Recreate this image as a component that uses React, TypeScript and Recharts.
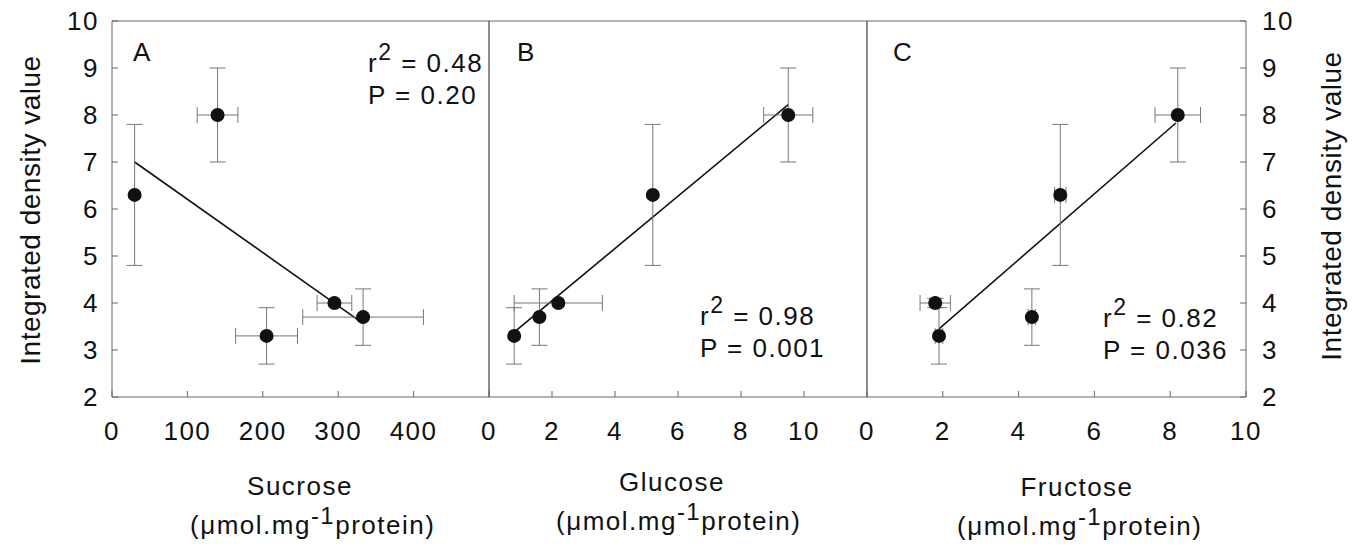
import React from 'react';
import {
  ScatterChart,
  Scatter,
  XAxis,
  YAxis,
  ErrorBar,
  ReferenceLine,
  ReferenceArea,
} from 'recharts';

const WIDTH = 1363;
const HEIGHT = 554;
const PLOT_TOP = 21;
const PLOT_BOTTOM = 397;
const X_AXIS_H = 40;
const LABEL_AXIS_W = 60;
const FONT = '"Liberation Sans", Arial, Helvetica, sans-serif';
const INK = '#111';
const FRAME = '#666';

const densityTicks = [2, 3, 4, 5, 6, 7, 8, 9, 10];

// A – sucrose
const sucroseX = [30, 140, 205, 295, 333];
const sucroseDensity = [6.3, 8.0, 3.3, 4.0, 3.7];
const sucroseXErr = [0, 27, 41, 23, 80];
const sucroseDensityErr = [1.5, 1.0, 0.6, 0, 0.6];
const sucroseFitX = [30, 330];
const sucroseFitY = [7.0, 3.6];
const sucroseTicks = [0, 100, 200, 300, 400];

// B – glucose
const glucoseX = [0.8, 1.6, 2.2, 5.2, 9.5];
const glucoseDensity = [3.3, 3.7, 4.0, 6.3, 8.0];
const glucoseXErr = [0, 0, 1.4, 0, 0.78];
const glucoseDensityErr = [0.6, 0.6, 0, 1.5, 1.0];
const glucoseFitX = [0.8, 9.5];
const glucoseFitY = [3.38, 8.22];
const glucoseTicks = [0, 2, 4, 6, 8, 10];

// C – fructose
const fructoseX = [1.8, 1.9, 4.35, 5.1, 8.2];
const fructoseDensity = [4.0, 3.3, 3.7, 6.3, 8.0];
const fructoseXErr = [0.4, 0.1, 0.1, 0.15, 0.6];
const fructoseDensityErr = [0.1, 0.6, 0.6, 1.5, 1.0];
const fructoseFitX = [1.9, 8.15];
const fructoseFitY = [3.45, 7.83];
const fructoseTicks = [0, 2, 4, 6, 8, 10];

type Row = { x: number; y: number; ex: number; ey: number };

const toRows = (xs: number[], ys: number[], exs: number[], eys: number[]): Row[] =>
  xs.map((x, i) => ({ x, y: ys[i], ex: exs[i], ey: eys[i] }));

const toSegment = (xs: number[], ys: number[]) =>
  xs.map((x, i) => ({ x, y: ys[i] }));

const Dot = (props: any) => <circle cx={props.cx} cy={props.cy} r={7} fill={INK} />;
const NoDot = () => <g />;

const tickStyle = { fontSize: 26, fill: INK, fontFamily: FONT };

// "r² = …" over "P = …"
const Stats = ({ x, y, r2, p }: { x: number; y: number; r2: string; p: string }) => (
  <text x={x} y={y} fontSize={26} fill={INK} fontFamily={FONT}>
    r
    <tspan dy={-12} fontSize={23}>2</tspan>
    <tspan dy={12}>{` = ${r2}`}</tspan>
    <tspan x={x} dy={32}>{`P = ${p}`}</tspan>
  </text>
);

type TitleProps = { cx: number; y: number; name: string; unitX: number; unitY: number };

const SugarTitle = ({ cx, y, name, unitX, unitY }: TitleProps) => (
  <g fontSize={26} fill={INK} fontFamily={FONT}>
    <text x={cx} y={y} textAnchor="middle">{name}</text>
    <text x={unitX} y={unitY}>
      (μmol.mg
      <tspan dy={-10} fontSize={24}>-1</tspan>
      <tspan dy={10}>protein)</tspan>
    </text>
  </g>
);

const DensityTitle = ({ x, y }: { x: number; y: number }) => (
  <text
    x={x}
    y={y}
    transform={`rotate(-90 ${x} ${y})`}
    textAnchor="middle"
    dominantBaseline="central"
    fontSize={28}
    letterSpacing="0.5px"
    fill={INK}
  >
    Integrated density value
  </text>
);

type PanelProps = {
  rows: Row[];
  fit: { x: number; y: number }[];
  domain: [number, number];
  ticks: number[];
  left: number;
  right: number;
  labelSide: 'left' | 'right' | 'none';
  children?: React.ReactNode;
};

function Panel({ rows, fit, domain, ticks, left, right, labelSide, children }: PanelProps) {
  const lw = labelSide === 'left' ? LABEL_AXIS_W : 0;
  const rw = labelSide === 'right' ? LABEL_AXIS_W : 0;
  const blank = () => '';
  return (
    <ScatterChart
      width={WIDTH}
      height={HEIGHT}
      style={{ position: 'absolute', left: 0, top: 0 }}
      margin={{
        top: PLOT_TOP,
        left: left - lw,
        right: WIDTH - right - rw,
        bottom: HEIGHT - PLOT_BOTTOM - X_AXIS_H,
      }}
    >
      <XAxis
        type="number"
        dataKey="x"
        domain={domain}
        ticks={ticks}
        allowDataOverflow
        height={X_AXIS_H}
        axisLine={false}
        tickSize={-6}
        tickMargin={31}
        tickLine={{ stroke: FRAME }}
        tick={tickStyle}
        interval={0}
      />
      <YAxis
        yAxisId="l"
        type="number"
        dataKey="y"
        domain={[2, 10]}
        ticks={densityTicks}
        width={lw}
        axisLine={false}
        tickSize={-6}
        tickMargin={19}
        tickLine={{ stroke: FRAME }}
        tick={tickStyle}
        tickFormatter={labelSide === 'left' ? undefined : blank}
        interval={0}
      />
      <YAxis
        yAxisId="r"
        orientation="right"
        type="number"
        dataKey="y"
        domain={[2, 10]}
        ticks={densityTicks}
        width={rw}
        axisLine={false}
        tickSize={-6}
        tickMargin={22}
        tickLine={{ stroke: FRAME }}
        tick={tickStyle}
        tickFormatter={labelSide === 'right' ? undefined : blank}
        interval={0}
      />
      <ReferenceArea
        yAxisId="l"
        x1={domain[0]}
        x2={domain[1]}
        y1={2}
        y2={10}
        fill="none"
        stroke={FRAME}
        strokeWidth={1}
      />
      <ReferenceLine yAxisId="l" segment={fit} stroke={INK} strokeWidth={1.6} />
      {/* invisible copy so the right-hand axis is drawn */}
      <Scatter yAxisId="r" data={rows} shape={NoDot} isAnimationActive={false} />
      <Scatter yAxisId="l" data={rows} shape={Dot} isAnimationActive={false}>
        <ErrorBar dataKey="ex" direction="x" width={8} stroke="#777" strokeWidth={1} />
        <ErrorBar dataKey="ey" direction="y" width={8} stroke="#777" strokeWidth={1} />
      </Scatter>
      {children}
    </ScatterChart>
  );
}

export default function App() {
  const sucrose = toRows(sucroseX, sucroseDensity, sucroseXErr, sucroseDensityErr);
  const glucose = toRows(glucoseX, glucoseDensity, glucoseXErr, glucoseDensityErr);
  const fructose = toRows(fructoseX, fructoseDensity, fructoseXErr, fructoseDensityErr);

  return (
    <div
      style={{
        position: 'absolute',
        left: 0,
        top: 0,
        width: WIDTH,
        height: HEIGHT,
        background: '#fff',
        fontFamily: FONT,
        letterSpacing: '1.5px',
      }}
    >
      <Panel
        rows={sucrose}
        fit={toSegment(sucroseFitX, sucroseFitY)}
        domain={[0, 500]}
        ticks={sucroseTicks}
        left={112}
        right={489}
        labelSide="left"
      >
        <text x={133} y={61} fontSize={26} fill={INK}>A</text>
        <Stats x={368} y={72} r2="0.48" p="0.20" />
        <SugarTitle cx={300} y={495} name="Sucrose" unitX={190} unitY={534} />
        <DensityTitle x={30} y={210} />
      </Panel>
      <Panel
        rows={glucose}
        fit={toSegment(glucoseFitX, glucoseFitY)}
        domain={[0, 12]}
        ticks={glucoseTicks}
        left={489}
        right={867}
        labelSide="none"
      >
        <text x={517} y={61} fontSize={26} fill={INK}>B</text>
        <Stats x={700} y={325} r2="0.98" p="0.001" />
        <SugarTitle cx={672} y={491} name="Glucose" unitX={556} unitY={530} />
      </Panel>
      <Panel
        rows={fructose}
        fit={toSegment(fructoseFitX, fructoseFitY)}
        domain={[0, 10]}
        ticks={fructoseTicks}
        left={867}
        right={1246}
        labelSide="right"
      >
        <text x={893} y={61} fontSize={26} fill={INK}>C</text>
        <Stats x={1103} y={327} r2="0.82" p="0.036" />
        <SugarTitle cx={1077} y={496} name="Fructose" unitX={957} unitY={535} />
        <DensityTitle x={1331} y={206} />
      </Panel>
    </div>
  );
}
